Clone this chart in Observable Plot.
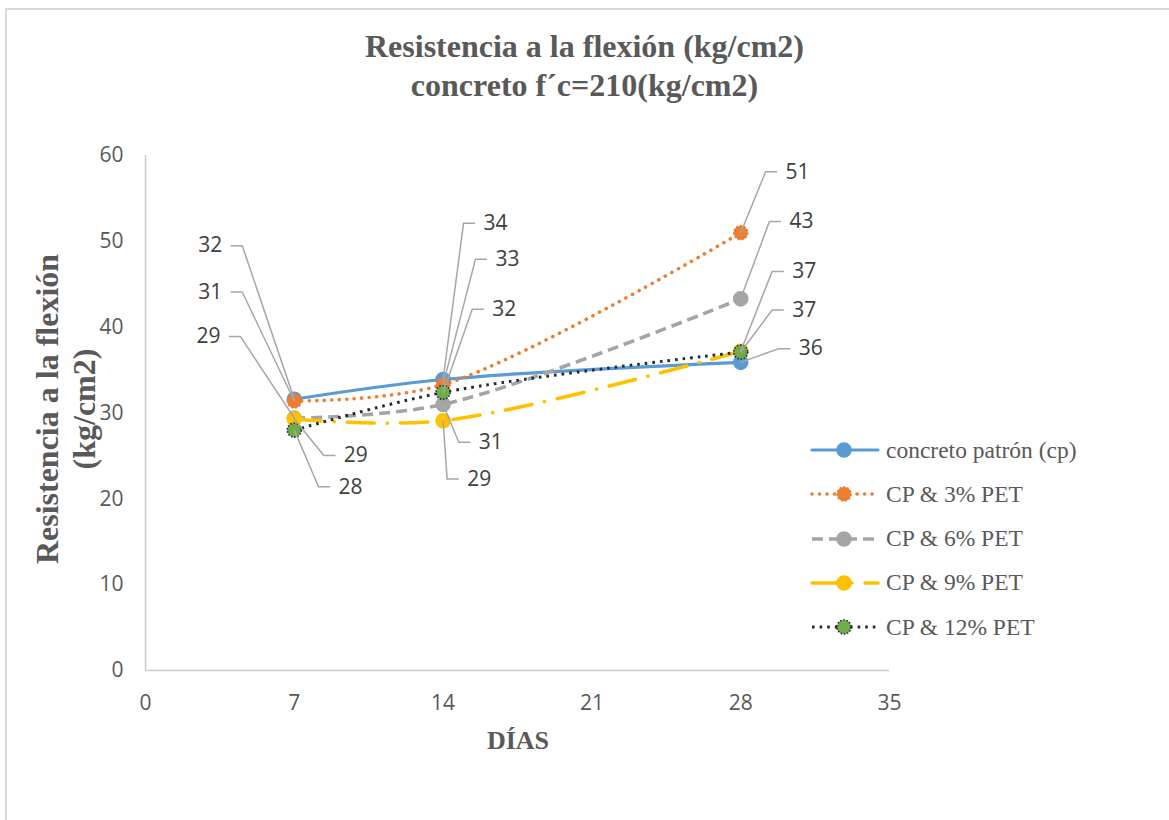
<!DOCTYPE html>
<html>
<head>
<meta charset="utf-8">
<script src="https://cdn.jsdelivr.net/npm/d3@7"></script>
<script src="https://cdn.jsdelivr.net/npm/@observablehq/plot@0.6"></script>
<style>
  body { margin: 0; background: #fff; }
  #wrap { position: relative; width: 1169px; height: 820px; overflow: hidden; background: #fff; }
  #frame { position: absolute; left: 5px; top: 8px; width: 1300px; height: 1000px;
           border-top: 2px solid #d9d9d9; border-left: 2px solid #d9d9d9; box-sizing: border-box; }
  #chart { position: absolute; left: 0; top: 0; }
  .serif { font-family: "Liberation Serif", "Times New Roman", serif; color: #595959; }
  #title { position: absolute; left: 0; width: 1169px; top: 27px; text-align: center;
           font-weight: bold; font-size: 32px; line-height: 39px; }
  #ytitle { position: absolute; left: 66px; top: 409px; width: 400px; margin-left: -200px;
            text-align: center; font-weight: bold; font-size: 32px; line-height: 37px;
            transform: translate(0, -50%) rotate(-90deg); }
  #xtitle { position: absolute; left: 418px; width: 200px; top: 725px; text-align: center;
            font-weight: bold; font-size: 26px; line-height: 32px; }
  #legend { position: absolute; left: 810px; top: 428px; }
  .lrow { display: flex; align-items: center; height: 44.25px; }
  .lrow span { font-size: 23.5px; margin-left: 6px; white-space: nowrap; }
</style>
</head>
<body>
<div id="wrap">
  <div id="frame"></div>
  <div id="chart"></div>
  <div id="title" class="serif"></div>
  <div id="ytitle" class="serif"></div>
  <div id="xtitle" class="serif"></div>
  <div id="legend" class="serif"></div>
</div>
<script>
// ---------- data ----------
const titleLines = ["Resistencia a la flexión (kg/cm2)", "concreto f´c=210(kg/cm2)"];
const yTitleLines = ["Resistencia a la flexión", "(kg/cm2)"];
const xTitle = "DÍAS";

const days = [7, 14, 28];
const seriesNames = ["concreto patrón (cp)", "CP & 3% PET", "CP & 6% PET", "CP & 9% PET", "CP & 12% PET"];
const cp    = [31.6, 33.9, 35.9];
const pet3  = [31.4, 33.3, 51.0];
const pet6  = [29.4, 31.0, 43.3];
const pet9  = [29.3, 29.1, 37.2];
const pet12 = [28.0, 32.4, 37.1];

const xTicks = [0, 7, 14, 21, 28, 35];
const yTicks = [0, 10, 20, 30, 40, 50, 60];

// data-label leader elbows (in data units), per series per day; side: -1 left, +1 right
const labelElbowX = [[4.55, 14.96, 29.79], [4.55, 15.52, 29.17], [4.47, 14.74, 29.35], [8.39, 14.19, 29.48], [8.14, 15.37, 29.48]];
const labelElbowY = [[49.5, 52.1, 37.5], [44.1, 47.9, 58.1], [38.9, 26.6, 52.3], [25.05, 22.3, 46.5], [21.4, 42.1, 42.0]];
const labelSide   = [[-1, 1, 1], [-1, 1, 1], [-1, 1, 1], [1, 1, 1], [1, 1, 1]];

// ---------- styles ----------
const seriesValues = [cp, pet3, pet6, pet9, pet12];
const styles = [
  {stroke: "#5b9bd5", dash: null, cap: "round", width: 3.2, fill: "#5b9bd5", mstroke: "#5b9bd5", mdash: null},
  {stroke: "#ed7d31", dash: "0.1 7.4", cap: "round", width: 3.6, fill: "#ed7d31", mstroke: "#ed7d31", mdash: "2 2"},
  {stroke: "#a5a5a5", dash: "11 6", cap: "butt", width: 3.6, fill: "#a5a5a5", mstroke: "#a5a5a5", mdash: null},
  {stroke: "#ffc000", dash: "27 13 0.1 13", cap: "round", width: 3.6, fill: "#ffc000", mstroke: "#ffc000", mdash: null},
  {stroke: "#222a35", dash: "2.6 5", cap: "butt", width: 3, fill: "#70ad47", mstroke: "#222a35", mdash: "1.6 1.6"}
];

// ---------- build tables ----------
const rows = [];
const labels = [];
seriesNames.forEach((name, si) => {
  days.forEach((d, i) => {
    const v = seriesValues[si][i];
    rows.push({series: name, si, day: d, value: v});
    labels.push({
      si, day: d, value: v, text: String(Math.round(v)),
      ex: labelElbowX[si][i], ey: labelElbowY[si][i], side: labelSide[si][i]
    });
  });
});
const hookLen = 0.52; // length of horizontal leader segment (x units)
const leaderPaths = labels.map((l, k) => [
  {k, x: l.day, y: l.value},
  {k, x: l.ex, y: l.ey},
  {k, x: l.ex + l.side * hookLen, y: l.ey}
]).flat();

const marks = [
  Plot.ruleX([0], {y1: 0, y2: 60, stroke: "#c9c9c9", strokeWidth: 1.5}),
  Plot.ruleY([0], {x1: 0, x2: 35, stroke: "#c9c9c9", strokeWidth: 1.5}),
  Plot.text(yTicks, {x: 0, y: d => d, text: d => String(d), textAnchor: "end", dx: -22, fill: "#595959", fontSize: 21}),
  Plot.text(xTicks, {x: d => d, y: 0, text: d => String(d), dy: 33, fill: "#595959", fontSize: 21})
];
seriesNames.forEach((name, si) => {
  const st = styles[si];
  const data = rows.filter(r => r.si === si);
  marks.push(Plot.line(data, {
    x: "day", y: "value", curve: "catmull-rom",
    stroke: st.stroke, strokeWidth: st.width, strokeDasharray: st.dash,
    strokeLinecap: st.cap, strokeLinejoin: "round"
  }));
  marks.push(Plot.dot(data, {
    x: "day", y: "value", r: 7, fill: st.fill, stroke: st.mstroke,
    strokeWidth: 1.6, strokeDasharray: st.mdash
  }));
});
marks.push(Plot.line(leaderPaths, {x: "x", y: "y", z: "k", stroke: "#a6a6a6", strokeWidth: 1.5, curve: "linear"}));
marks.push(Plot.text(labels.filter(l => l.side < 0), {
  x: "ex", y: "ey", text: "text", textAnchor: "end", dx: -20, fill: "#404040", fontSize: 21
}));
marks.push(Plot.text(labels.filter(l => l.side > 0), {
  x: "ex", y: "ey", text: "text", textAnchor: "start", dx: 20, fill: "#404040", fontSize: 21
}));

const chart = Plot.plot({
  width: 1169, height: 820,
  marginLeft: 145, marginRight: 280, marginTop: 155, marginBottom: 150,
  x: {domain: [0, 35], axis: null},
  y: {domain: [0, 60], axis: null},
  style: {fontFamily: "'Open Sans', sans-serif", fontSize: "20px", color: "#595959", background: "transparent", overflow: "visible"},
  marks
});
document.getElementById("chart").appendChild(chart);

// ---------- titles ----------
document.getElementById("title").innerHTML = titleLines.map(t => `<div>${t}</div>`).join("");
document.getElementById("ytitle").innerHTML = yTitleLines.map(t => `<div>${t}</div>`).join("");
document.getElementById("xtitle").textContent = xTitle;

// ---------- legend ----------
const legend = d3.select("#legend");
seriesNames.forEach((name, si) => {
  const st = styles[si];
  const row = legend.append("div").attr("class", "lrow");
  const svg = row.append("svg").attr("width", 70).attr("height", 20);
  svg.append("line").attr("x1", 2).attr("x2", 68).attr("y1", 10).attr("y2", 10)
    .attr("stroke", st.stroke).attr("stroke-width", st.width)
    .attr("stroke-dasharray", st.dash).attr("stroke-linecap", st.cap);
  svg.append("circle").attr("cx", 34).attr("cy", 10).attr("r", 7)
    .attr("fill", st.fill).attr("stroke", st.mstroke).attr("stroke-width", 1.6)
    .attr("stroke-dasharray", st.mdash);
  row.append("span").text(name);
});
</script>
</body>
</html>
